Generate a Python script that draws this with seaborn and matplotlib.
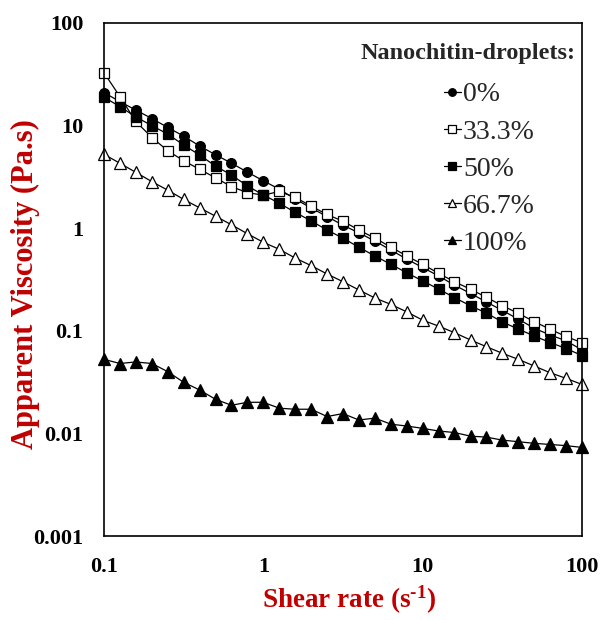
import matplotlib
matplotlib.use("Agg")
import matplotlib.pyplot as plt
import seaborn as sns
from matplotlib.ticker import NullLocator, LogLocator, NullFormatter

# ---------------- data ----------------
shear_rate = [0.1, 0.126, 0.158, 0.2, 0.251, 0.316, 0.398, 0.501, 0.631, 0.794,
              1.0, 1.26, 1.58, 2.0, 2.51, 3.16, 3.98, 5.01, 6.31, 7.94,
              10.0, 12.6, 15.8, 20.0, 25.1, 31.6, 39.8, 50.1, 63.1, 79.4, 100.0]

visc_0 = [21.0, 17.1, 14.2, 11.7, 9.6, 7.9, 6.33, 5.2, 4.3, 3.52,
          2.9, 2.4, 1.93, 1.57, 1.30, 1.07, 0.90, 0.75, 0.613, 0.50,
          0.414, 0.342, 0.279, 0.231, 0.191, 0.158, 0.130, 0.106, 0.091, 0.080, 0.065]

visc_33 = [32.8, 19.1, 11.0, 7.65, 5.69, 4.55, 3.75, 3.10, 2.54, 2.22,
           2.10, 2.28, 2.00, 1.64, 1.36, 1.17, 0.96, 0.80, 0.656, 0.536,
           0.445, 0.363, 0.301, 0.254, 0.212, 0.176, 0.148, 0.123, 0.1035, 0.088, 0.0765]

visc_50 = [18.9, 15.3, 12.2, 9.97, 8.28, 6.47, 5.17, 4.03, 3.30, 2.58,
           2.11, 1.75, 1.43, 1.175, 0.96, 0.80, 0.652, 0.536, 0.445, 0.368,
           0.306, 0.255, 0.211, 0.175, 0.149, 0.122, 0.104, 0.089, 0.0769, 0.0672, 0.0574]

visc_66 = [5.25, 4.29, 3.51, 2.84, 2.35, 1.91, 1.58, 1.31, 1.08, 0.884,
           0.729, 0.622, 0.513, 0.431, 0.358, 0.301, 0.250, 0.209, 0.181, 0.153,
           0.127, 0.111, 0.096, 0.0813, 0.070, 0.0604, 0.0527, 0.0454, 0.039, 0.0344, 0.030]

visc_100 = [0.0527, 0.048, 0.0497, 0.048, 0.040, 0.0315, 0.0265, 0.0215, 0.0188, 0.0201,
            0.0201, 0.0176, 0.0172, 0.0172, 0.0146, 0.0156, 0.0135, 0.0141, 0.0123, 0.0118,
            0.0112, 0.01055, 0.0102, 0.0094, 0.0092, 0.0086, 0.0083, 0.0080, 0.0078, 0.0076, 0.0073]

series_labels = ["0%", "33.3%", "50%", "66.7%", "100%"]
x_ticks = [0.1, 1, 10, 100]
x_tick_labels = ["0.1", "1", "10", "100"]
y_ticks = [0.001, 0.01, 0.1, 1, 10, 100]
y_tick_labels = ["0.001", "0.01", "0.1", "1", "10", "100"]

# ---------------- style ----------------
sns.set_style("white")
plt.rcParams["font.family"] = ["Liberation Serif", "DejaVu Serif"]
plt.rcParams["mathtext.fontset"] = "custom"
plt.rcParams["mathtext.rm"] = "Liberation Serif:bold"
plt.rcParams["mathtext.bf"] = "Liberation Serif:bold"
plt.rcParams["mathtext.default"] = "bf"

W, H = 608, 620
fig = plt.figure(figsize=(W / 100, H / 100), dpi=100)
ax = fig.add_axes([104 / W, 1 - 536 / H, (582 - 104) / W, (536 - 23) / H])

styles = [
    (visc_0, "o", "black", 7.0),
    (visc_33, "s", "white", 7.0),
    (visc_50, "s", "black", 6.6),
    (visc_66, "^", "white", 8.2),
    (visc_100, "^", "black", 8.2),
]
for (vals, mk, fc, ms), lab in zip(styles, series_labels):
    sns.lineplot(x=shear_rate, y=vals, ax=ax, color="black", lw=0.9,
                 marker=mk, markersize=ms, markerfacecolor=fc,
                 markeredgecolor="black", markeredgewidth=0.9,
                 label=lab, errorbar=None, clip_on=False)

ax.set_xscale("log")
ax.set_yscale("log")
ax.set_xlim(0.1, 100)
ax.set_ylim(0.001, 100)

ax.set_xticks(x_ticks, labels=x_tick_labels, fontsize=16, fontweight="bold")
ax.set_yticks(y_ticks, labels=y_tick_labels, fontsize=16, fontweight="bold")
ax.xaxis.set_minor_locator(NullLocator())
ax.yaxis.set_minor_locator(LogLocator(base=10, subs=[2, 3, 4, 5, 6, 7, 8, 9]))
ax.yaxis.set_minor_formatter(NullFormatter())
ax.tick_params(axis="x", which="major", direction="out", length=5, width=1.1, pad=10, colors="black")
ax.tick_params(axis="y", which="major", direction="out", length=5, width=1.1, pad=10, colors="black")
ax.tick_params(axis="y", which="minor", direction="out", length=4, width=0.9, colors="black")
for sp in ax.spines.values():
    sp.set_color("black")
    sp.set_linewidth(1.2)

ax.set_xlabel(r"Shear rate (s$^{\text{-1}}$)", fontsize=19.5, fontweight="bold", color="#C00000")
ax.set_ylabel("Apparent Viscosity (Pa.s)", fontsize=22, fontweight="bold", color="#C00000")
ax.xaxis.set_label_coords((349 - 104) / 478, (536 - 600) / 513)
ax.xaxis.label.set_va("center")
ax.yaxis.set_label_coords((25 - 104) / 478, (536 - 284) / 513)
ax.yaxis.label.set_va("center")

fig.text(576 / W, 1 - 53 / H, "Nanochitin-droplets:", ha="right", va="center",
         fontsize=17.5, fontweight="bold")
handles, labels = ax.get_legend_handles_labels()
ax.legend(handles, labels, loc="upper left", bbox_to_anchor=(444 / W, 1 - 82 / H),
          bbox_transform=fig.transFigure, frameon=False, fontsize=20,
          handlelength=0.6, handletextpad=0.08, labelspacing=0.42,
          markerscale=0.78, borderpad=0, borderaxespad=0)

fig.savefig("out.png", dpi=100)
